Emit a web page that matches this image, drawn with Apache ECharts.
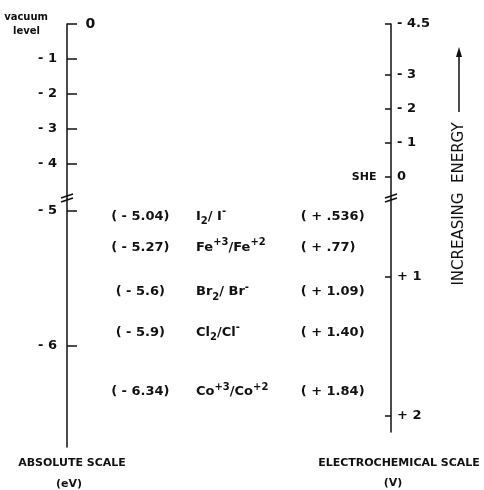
<!DOCTYPE html>
<html><head><meta charset="utf-8">
<script src="https://cdn.jsdelivr.net/npm/echarts@6/dist/echarts.min.js"></script>
<style>html,body{margin:0;padding:0;background:#fff}#c{width:484px;height:490px}</style>
</head><body><div id="c"></div>
<script>
// ---- data ----
const leftUpperTicks = [0, -1, -2, -3, -4];
const leftLowerTicks = [-5, -6];
const rightUpperTicks = [-4.5, -3, -2, -1, 0];
const rightLowerTicks = [1, 2];
const leftUpperRange = [-5, 0];
const leftLowerRange = [-6.748, -4.911];
const rightUpperRange = [-4.5, 0.647];
const rightLowerRange = [0.439, 2.115];
const columns = ['absolute', 'couple', 'electrochemical'];
const absValues = [-5.04, -5.27, -5.6, -5.9, -6.34];
const ecValues = [0.536, 0.77, 1.09, 1.40, 1.84];
const coupleLabels = ['I{sub|2}/ I{sup|-}', 'Fe{sup|+3}/Fe{sup|+2}', 'Br{sub|2}/ Br{sup|-}', 'Cl{sub|2}/Cl{sup|-}', 'Co{sup|+3}/Co{sup|+2}'];
const vacuumValue = 0;
const sheValue = 0;

const absLabels = absValues.map(v => '( - ' + Math.abs(v) + ')');
const ecLabels = ecValues.map(v => '( + ' + (v < 1 ? '.' + String(v).split('.')[1] : v.toFixed(2)) + ')');

const INK = '#111';
const FONT = 'DejaVu Sans';

function leftFmt(v) { return Number(v) === 0 ? '{v|vacuum}\n{l|level}' : '- ' + Math.abs(v); }
function rightFmt(v) { v = Number(v); return v < 0 ? '- ' + Math.abs(v) : (v === 0 ? '0' : '+ ' + v); }

function valAxis(grid, pos, range, ticks, fmt, inverse, tickLen, margin) {
  return {
    type: 'value', gridIndex: grid, position: pos, min: range[0], max: range[1], inverse: inverse,
    axisLine: { show: true, onZero: false, lineStyle: { color: INK, width: 1.5 } },
    splitLine: { show: false },
    axisTick: { show: true, inside: true, length: tickLen, customValues: ticks, lineStyle: { color: INK, width: 1.5 } },
    axisLabel: {
      show: true, customValues: ticks, formatter: fmt, fontSize: 13, fontWeight: 'bold', color: INK, fontFamily: FONT, margin: margin,
      rich: { v: { fontSize: 10, fontWeight: 'bold', lineHeight: 14, padding: [0, 9, 0, 0], fontFamily: FONT, color: INK },
              l: { fontSize: 10, fontWeight: 'bold', lineHeight: 14, padding: [0, 17, 0, 0], fontFamily: FONT, color: INK } }
    }
  };
}
function hiddenY(grid, range, inverse) {
  return { type: 'value', gridIndex: grid, min: range[0], max: range[1], inverse: inverse, show: false, splitLine: { show: false } };
}

const transparent = { color: 'rgba(0,0,0,0)', opacity: 1 };
const textLabel = { show: true, position: 'inside', fontSize: 13, fontWeight: 'bold', color: INK, fontFamily: FONT };

const option = {
  backgroundColor: '#fff',
  animation: false,
  textStyle: { fontFamily: FONT, color: INK },
  grid: [
    { left: 67, right: 93, top: 24, height: 175 },
    { left: 67, width: 40, top: 199, height: 248 },
    { left: 291, width: 100, top: 199, height: 233 },
    { left: 90, width: 290, top: 199, height: 248 }
  ],
  xAxis: [0, 1, 2].map(i => ({ type: 'value', gridIndex: i, min: 0, max: 1, show: false }))
    .concat([{ type: 'category', gridIndex: 3, data: columns, show: false }]),
  yAxis: [
    valAxis(0, 'left', leftUpperRange, leftUpperTicks, leftFmt, false, 10, 10),
    valAxis(0, 'right', rightUpperRange, rightUpperTicks, rightFmt, true, 6, 6),
    valAxis(1, 'left', leftLowerRange, leftLowerTicks, leftFmt, false, 10, 10),
    valAxis(2, 'right', rightLowerRange, rightLowerTicks, rightFmt, true, 6, 6),
    hiddenY(3, leftLowerRange, false)
  ],
  series: [
    { type: 'scatter', xAxisIndex: 0, yAxisIndex: 0, symbolSize: 1, itemStyle: transparent, silent: true,
      data: [[0, vacuumValue]],
      label: { show: true, position: 'right', distance: 18, formatter: '0', fontSize: 14, fontWeight: 'bold', color: INK, fontFamily: FONT } },
    { type: 'scatter', xAxisIndex: 0, yAxisIndex: 1, symbolSize: 1, itemStyle: transparent, silent: true,
      data: [[1, sheValue]],
      label: { show: true, position: 'left', distance: 14, formatter: 'SHE', fontSize: 11, fontWeight: 'bold', color: INK, fontFamily: FONT } },
    { type: 'scatter', xAxisIndex: 3, yAxisIndex: 4, symbolSize: 1, itemStyle: transparent, silent: true,
      data: absValues.map(v => [columns[0], v]),
      label: Object.assign({}, textLabel, { formatter: p => absLabels[p.dataIndex], offset: [2, 0] }) },
    { type: 'scatter', xAxisIndex: 3, yAxisIndex: 4, symbolSize: 1, itemStyle: transparent, silent: true,
      data: absValues.map(v => [columns[1], v]),
      label: Object.assign({}, textLabel, { formatter: p => coupleLabels[p.dataIndex], align: 'left', offset: [-39, 0],
        rich: { sub: { fontSize: 10, fontWeight: 'bold', verticalAlign: 'bottom', padding: [10, 0, 0, 0], color: INK, fontFamily: FONT },
                sup: { fontSize: 10, fontWeight: 'bold', verticalAlign: 'top', padding: [0, 0, 10, 0], color: INK, fontFamily: FONT } } }) },
    { type: 'scatter', xAxisIndex: 3, yAxisIndex: 4, symbolSize: 1, itemStyle: transparent, silent: true,
      data: absValues.map(v => [columns[2], v]),
      label: Object.assign({}, textLabel, { formatter: p => ecLabels[p.dataIndex], align: 'left', offset: [-31, 0] }) }
  ]
};

const chart = echarts.init(document.getElementById('c'), null, { renderer: 'canvas' });
chart.setOption(option);

const xl = chart.convertToPixel({ xAxisIndex: 0 }, 0);
const xr = chart.convertToPixel({ xAxisIndex: 0 }, 1);
const yl = chart.convertToPixel({ yAxisIndex: 0 }, leftUpperRange[0]);
const yr = chart.convertToPixel({ yAxisIndex: 1 }, rightUpperRange[1]);
const brk = (x, y) => [
  { type: 'line', shape: { x1: x - 6, y1: y - 1, x2: x + 6, y2: y - 5 }, style: { stroke: INK, lineWidth: 1.5 }, silent: true },
  { type: 'line', shape: { x1: x - 6, y1: y + 3, x2: x + 6, y2: y - 1 }, style: { stroke: INK, lineWidth: 1.5 }, silent: true }
];
const txt = (x, y, t, size, weight, rot) => ({ type: 'text', x: x, y: y, rotation: rot || 0, silent: true,
  style: { text: t, fill: INK, font: (weight || 'normal') + ' ' + size + 'px "' + FONT + '"', align: 'center', verticalAlign: 'middle' } });

chart.setOption({
  graphic: [].concat(
    brk(xl, yl), brk(xr, yr),
    [
      { type: 'line', shape: { x1: 459, y1: 112, x2: 459, y2: 54 }, style: { stroke: INK, lineWidth: 1.5 }, silent: true },
      { type: 'polygon', shape: { points: [[459, 47], [456, 57], [462, 57]] }, style: { fill: INK }, silent: true },
      txt(459, 204, 'INCREASING  ENERGY', 15, 'normal', Math.PI / 2),
      txt(72, 463, 'ABSOLUTE SCALE', 11, 'bold'),
      txt(69, 484, '(eV)', 11, 'bold'),
      txt(399, 463, 'ELECTROCHEMICAL SCALE', 11, 'bold'),
      txt(393, 483, '(V)', 11, 'bold')
    ]
  )
});
</script></body></html>
